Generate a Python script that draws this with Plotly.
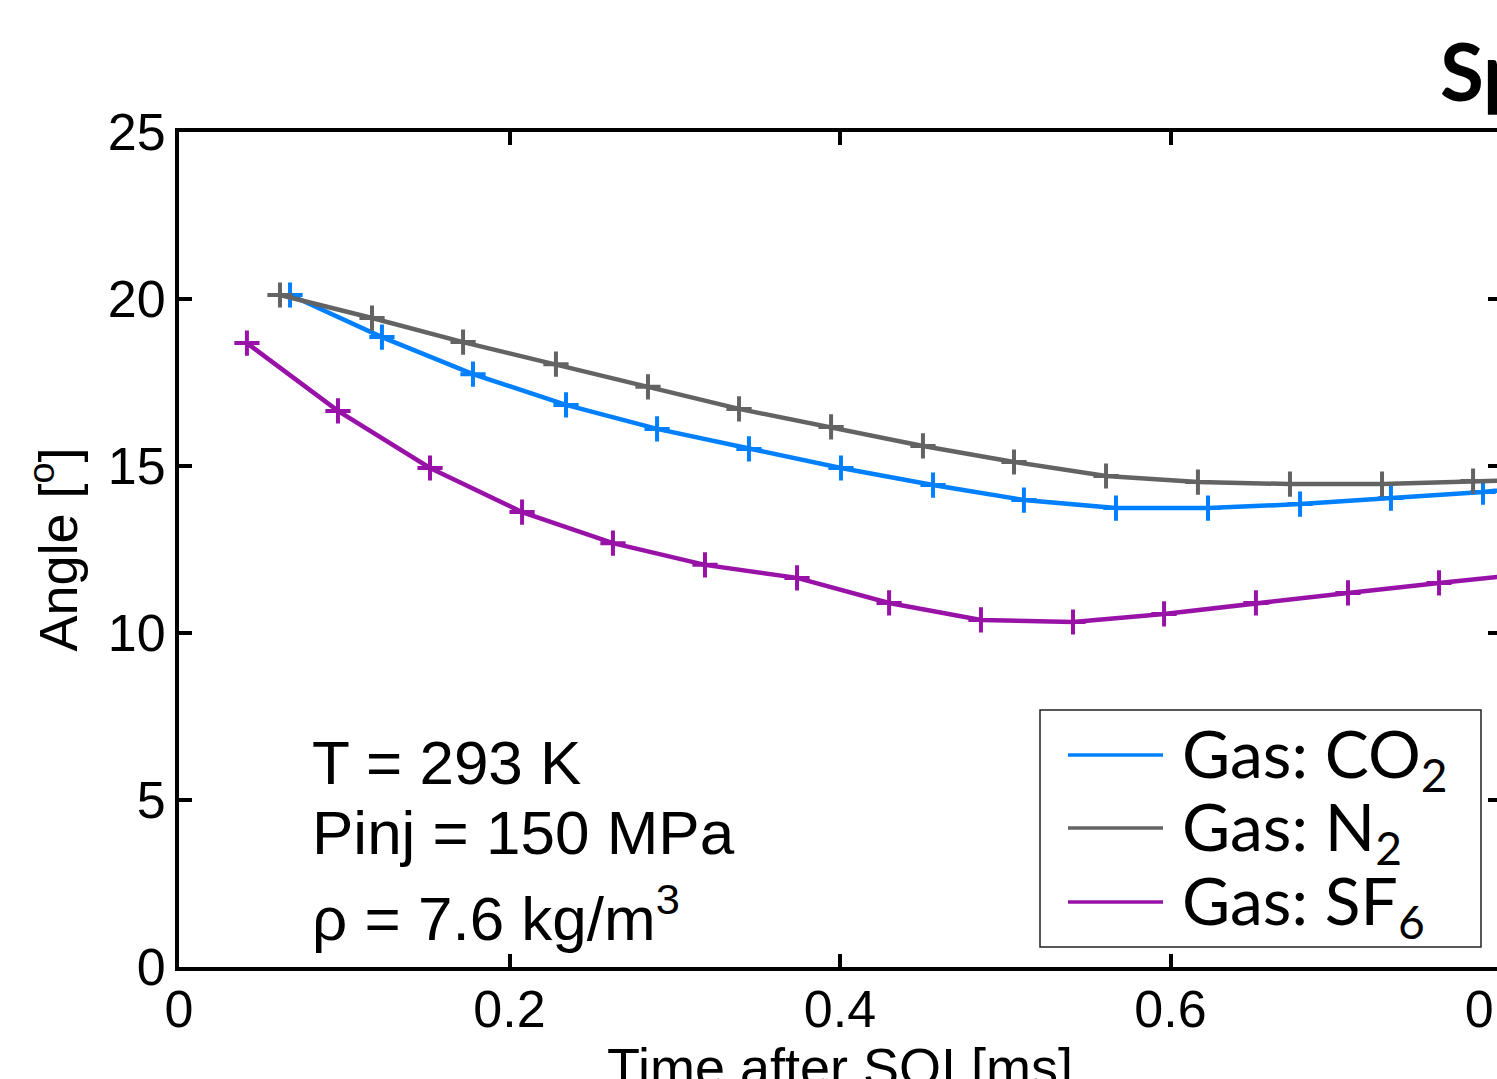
import plotly.graph_objects as go

# ---------------- data ----------------
co2_t = [0.0672, 0.1228, 0.1779, 0.2342, 0.2893, 0.3449, 0.4006, 0.4563, 0.5113, 0.5670, 0.6227, 0.6784, 0.7334, 0.7891, 0.8447]
co2_a = [20.12, 18.86, 17.75, 16.83, 16.11, 15.51, 14.94, 14.43, 13.98, 13.74, 13.74, 13.86, 14.04, 14.22, 14.50]

n2_t = [0.0611, 0.1168, 0.1719, 0.2281, 0.2838, 0.3389, 0.3946, 0.4502, 0.5053, 0.5610, 0.6166, 0.6723, 0.7280, 0.7831, 0.8388]
n2_a = [20.12, 19.43, 18.71, 18.05, 17.37, 16.71, 16.17, 15.60, 15.12, 14.70, 14.52, 14.46, 14.46, 14.55, 14.62]

sf6_t = [0.0411, 0.0962, 0.1519, 0.2076, 0.2626, 0.3183, 0.3740, 0.4297, 0.4853, 0.5410, 0.5961, 0.6517, 0.7074, 0.7625, 0.8182]
sf6_a = [18.68, 16.65, 14.94, 13.62, 12.69, 12.04, 11.65, 10.90, 10.39, 10.33, 10.57, 10.90, 11.20, 11.50, 11.78]

series_names = ["Gas: CO<sub>2</sub>", "Gas: N<sub>2</sub>", "Gas: SF<sub>6</sub>"]
series_colors = ["#0080FF", "#636363", "#9912A8"]

x_ticks = [0, 0.2, 0.4, 0.6, 0.8]
x_tick_labels = ["0", "0.2", "0.4", "0.6", "0.8"]
y_ticks = [0, 5, 10, 15, 20, 25]
y_tick_labels = ["0", "5", "10", "15", "20", "25"]

x_title = "Time after SOI [ms]"
y_title = "Angle [<sup>o</sup>]"
info_lines = ["T = 293 K", "Pinj = 150 MPa", "ρ = 7.6 kg/m<sup>3</sup>"]
panel_title = "<b>Sp</b>"

# ---------------- geometry ----------------
W, H = 1530, 1079
L, R, T, B = 179, 29, 132, 112
PW = W - L - R
PH = H - T - B


def px(xp):
    return (xp - L) / PW


def py(yp):
    return (T + PH - yp) / PH


AX_FONT = "Liberation Sans, Arial, sans-serif"
LEG_FONT = "Lato, Open Sans, sans-serif"

fig = go.Figure()
for xs, ys, name, col in zip([co2_t, n2_t, sf6_t], [co2_a, n2_a, sf6_a], series_names, series_colors):
    fig.add_trace(go.Scatter(
        x=xs, y=ys, name=name, mode="lines+markers", showlegend=False,
        line=dict(color=col, width=4.5),
        marker=dict(symbol="cross-thin", size=18, color=col, line=dict(color=col, width=4)),
    ))

# manual legend
leg_rows_y = [755, 828, 902]
shapes = [dict(type="rect", xref="paper", yref="paper",
               x0=px(1040), x1=px(1481), y0=py(947), y1=py(710),
               line=dict(color="#222222", width=1.5), fillcolor="white", layer="above")]
annotations = []
for yy, name, col in zip(leg_rows_y, series_names, series_colors):
    shapes.append(dict(type="line", xref="paper", yref="paper",
                       x0=px(1068), x1=px(1163), y0=py(yy), y1=py(yy),
                       line=dict(color=col, width=3.5), layer="above"))
    annotations.append(dict(text=name, xref="paper", yref="paper", x=px(1180), y=py(yy + 2),
                            xanchor="left", yanchor="middle", showarrow=False,
                            font=dict(family=LEG_FONT, size=66, color="black")))

for yy, txt in zip([762, 832, 914], info_lines):
    annotations.append(dict(text=txt, xref="paper", yref="paper", x=px(310), y=py(yy),
                            xanchor="left", yanchor="middle", showarrow=False,
                            font=dict(family=AX_FONT, size=62, color="black")))

annotations.append(dict(text=panel_title, xref="paper", yref="paper", x=px(1438), y=py(70),
                        xanchor="left", yanchor="middle", showarrow=False,
                        font=dict(family=LEG_FONT, size=80, color="black")))

# x-axis title (partly below the visible page, as in the reference)
annotations.append(dict(text=x_title, xref="paper", yref="paper", x=0.5, y=py(1035),
                        xanchor="center", yanchor="top", showarrow=False,
                        font=dict(family=AX_FONT, size=54, color="black")))

axis_common = dict(showline=True, linecolor="black", linewidth=4, mirror="ticks",
                   ticks="inside", ticklen=13, tickwidth=4, tickcolor="black",
                   showgrid=False, zeroline=False, automargin=False,
                   ticklabeloverflow="allow",
                   tickfont=dict(family=AX_FONT, size=52, color="black"))

fig.update_layout(
    width=W, height=H, autosize=False,
    margin=dict(l=L, r=R, t=T, b=B, pad=0),
    plot_bgcolor="white", paper_bgcolor="white",
    xaxis=dict(range=[0, 0.8], tickvals=x_ticks, ticktext=x_tick_labels,
               ticklabelstandoff=-6, **axis_common),
    yaxis=dict(range=[0, 25], tickvals=y_ticks, ticktext=y_tick_labels,
               ticklabelstandoff=-1,
               title=dict(text=y_title, standoff=14,
                          font=dict(family=AX_FONT, size=54, color="black")),
               **axis_common),
    shapes=shapes,
    annotations=annotations,
)

fig.write_html("out.html", config={"responsive": False}, post_script=(
    "document.documentElement.style.overflow='hidden';"
    "document.body.style.margin='0';document.body.style.overflow='hidden';"
))
